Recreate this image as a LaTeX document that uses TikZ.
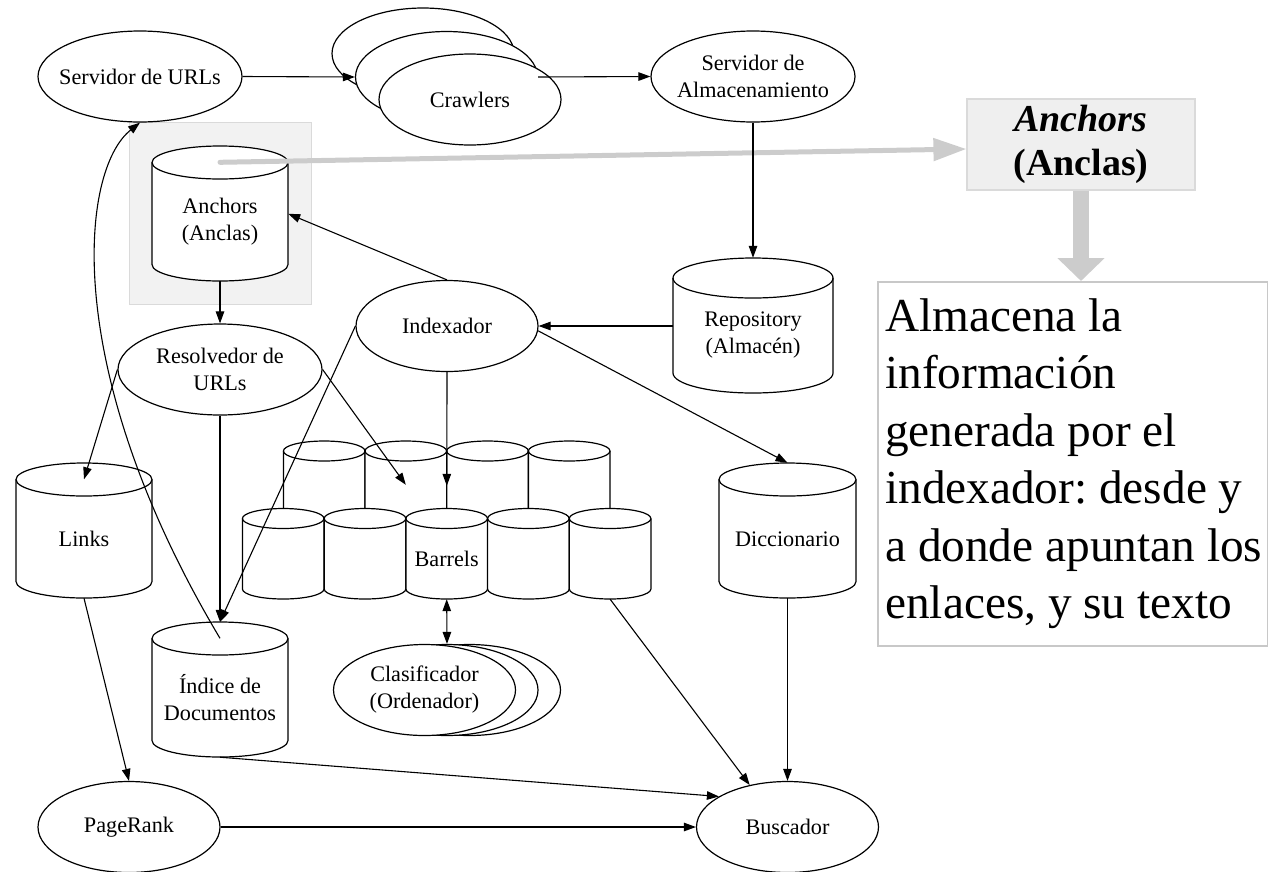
\documentclass[tikz,border=0pt]{standalone}
\usepackage{fontspec}
\setmainfont{Liberation Serif}
\usetikzlibrary{arrows.meta,calc,shapes.geometric}

\definecolor{hlfill}{HTML}{F2F2F2}
\definecolor{hlline}{HTML}{DADADA}
\definecolor{callout}{HTML}{CCCCCC}
\definecolor{notefill}{HTML}{EFEFEF}
\definecolor{noteline}{HTML}{C8C8C8}

\newcommand\diagfont{\fontsize{22.2}{27}\selectfont}

\tikzset{
  shapeline/.style={line width=1.2pt, draw=black},
  proc/.style={ellipse, shapeline, fill=white, inner xsep=-20pt, inner ysep=0pt,
               align=center, font=\diagfont},
  dbtext/.style={rectangle, inner sep=0pt, align=center, font=\diagfont},
  edge/.style={line width=1.1pt, -{Triangle[length=12pt,width=8.5pt]}},
  biedge/.style={line width=1.1pt,
                 {Triangle[length=12pt,width=8.5pt]}-{Triangle[length=12pt,width=8.5pt]}},
  hlbox/.style={rectangle, fill=hlfill, draw=hlline, line width=1pt, inner sep=0pt},
  labelbox/.style={rectangle, fill=notefill, draw=hlline, line width=1.2pt, align=center,
                   font=\fontsize{38}{44}\selectfont\bfseries},
  notebox/.style={rectangle, fill=white, draw=noteline, line width=1.5pt, inner sep=0pt},
  notetext/.style={inner sep=0pt, align=left,
                   font=\fontsize{47.3}{57.5}\selectfont\frenchspacing},
  calloutline/.style={draw=callout, line width=5pt, line cap=round,
                      -{Triangle[length=33pt,width=22pt]}},
  calloutdown/.style={draw=callout, line width=16.7pt,
                      -{Triangle[length=23pt,width=46pt]}},
}

% database cylinder: name, centre x, centre y (downwards), x radius, cap y radius, half height, text
\newcommand\dbcyl[7]{%
  \draw[shapeline, fill=white] ({#2-#4},{-(#3-#6+#5)}) -- ({#2-#4},{-(#3+#6-#5)})
     arc[start angle=180, end angle=360, x radius=#4pt, y radius=#5pt]
     -- ({#2+#4},{-(#3-#6+#5)})
     arc[start angle=0, end angle=180, x radius=#4pt, y radius=#5pt] -- cycle;
  \draw[shapeline] ({#2-#4},{-(#3-#6+#5)})
     arc[start angle=180, end angle=360, x radius=#4pt, y radius=#5pt];
  \node[dbtext, minimum width={2*#4}, minimum height={2*#6-#5}] (#1) at ({#2},{-(#3+#5/2)}) {#7};
}

\begin{document}
\begin{tikzpicture}[x=1pt, y=1pt]
\useasboundingbox (0,0) rectangle (1268,-871);

% highlighted store
\node[hlbox, minimum width=182pt, minimum height=182pt] (ancbg) at (220,-213) {};

% processes
\node[proc, minimum width=204pt, minimum height=91pt] (sdu) at (140,-76.5) {Servidor de URLs};
\node[proc, minimum width=182pt, minimum height=91pt] (crawlA) at (423,-53.5) {};
\node[proc, minimum width=182pt, minimum height=91pt] (crawlB) at (446.5,-77) {};
\node[proc, minimum width=182pt, minimum height=91pt] (crawl) at (470,-99.5) {Crawlers};
\node[proc, minimum width=204pt, minimum height=91pt] (sda) at (753,-76.5) {Servidor de\\Almacenamiento};
\node[proc, minimum width=182pt, minimum height=91pt] (idx) at (447,-326) {Indexador};
\node[proc, minimum width=204pt, minimum height=91pt] (res) at (220,-369.5) {Resolvedor de\\URLs};
\node[proc, minimum width=182pt, minimum height=91pt] (pr) at (129,-827) {PageRank};
\node[proc, minimum width=182pt, minimum height=91pt] (busc) at (787.5,-827) {Buscador};
\node[proc, minimum width=182pt, minimum height=91pt] (clasC) at (469.5,-690) {};
\node[proc, minimum width=182pt, minimum height=91pt] (clasB) at (447,-690) {};
\node[proc, minimum width=182pt, minimum height=91pt] (clas) at (424.5,-690) {Clasificador\\(Ordenador)};

% stores
\dbcyl{anc}{220}{213.5}{68}{16.5}{67.5}{Anchors\\(Anclas)}
\dbcyl{rep}{753}{325.5}{80}{20}{67.5}{Repository\\(Almacén)}
\dbcyl{links}{84}{530.5}{68}{16.5}{67.5}{Links}
\dbcyl{dic}{787.5}{530.5}{68.5}{16.5}{67.5}{Diccionario}
\dbcyl{ind}{220}{689.5}{68}{16.5}{67.5}{Índice de\\Documentos}

% barrels: back row, then front row
\dbcyl{barB1}{324.2}{486.5}{40.8}{10}{45.5}{}
\dbcyl{barB2}{405.8}{486.5}{40.8}{10}{45.5}{}
\dbcyl{barB3}{487.5}{486.5}{40.8}{10}{45.5}{}
\dbcyl{barB4}{569.2}{486.5}{40.8}{10}{45.5}{}
\dbcyl{barF1}{283.2}{553.75}{40.8}{10}{45.25}{}
\dbcyl{barF2}{365}{553.75}{40.8}{10}{45.25}{}
\dbcyl{barF3}{446.7}{553.75}{40.8}{10}{45.25}{Barrels}
\dbcyl{barF4}{528.4}{553.75}{40.8}{10}{45.25}{}
\dbcyl{barF5}{610.1}{553.75}{40.8}{10}{45.25}{}

% explanatory call-out
\node[labelbox, minimum width=228pt, minimum height=91pt] (lab) at (1081,-144.5)
  {\itshape Anchors\\(Anclas)};
\node[notebox, minimum width=390pt, minimum height=364pt, anchor=north west] (note) at (877,-281) {};
\node[notetext, anchor=west] (notetxt) at ([xshift=8pt]note.west)
  {Almacena la\\información\\generada por el\\indexador: desde y\\a donde apuntan los\\enlaces, y su texto};

\draw[calloutline] (anc.north) -- ([yshift=-4.5pt]lab.west);
\draw[calloutdown] (lab.south) -- (lab.south |- note.north);

% data flow
\draw[edge] (sdu.east) -- (crawlB.west);
\draw[edge] (crawlB.east) -- (sda.west);
\draw[edge] (sda.south) -- ([yshift=20pt]rep.north);
\draw[edge] (rep.west |- idx.east) -- (idx.east);
\draw[edge] (idx.north) -- ([yshift=8pt]anc.east);
\draw[edge] (anc.south) -- (res.north);
\draw[edge] (res.west) -- (links.north);
\draw[edge] (res.south) -- ([yshift=16.5pt]ind.north);
\draw[edge] (res.east) -- ([yshift=-34pt]barB2.north);
\draw[edge] (idx.south) -- ([yshift=-35pt]barB2.north east);
\draw[edge] (idx.west) -- ([yshift=16.5pt]ind.north);
\draw[edge] (idx.-3) -- ([yshift=16.5pt]dic.north);
\draw[biedge] (barF3.south) -- (clasB.north);
\draw[edge] (links.south) -- (pr.north);
\draw[edge] (ind.south) -- (busc.156);
\draw[edge] (barF5.south) -- (busc.132);
\draw[edge] (dic.south) -- (busc.north);
\draw[edge] (pr.east) -- (busc.west);
\draw[edge] (ind.north) .. controls (60,-370) and (80,-170) .. (sdu.south);
\end{tikzpicture}
\end{document}
